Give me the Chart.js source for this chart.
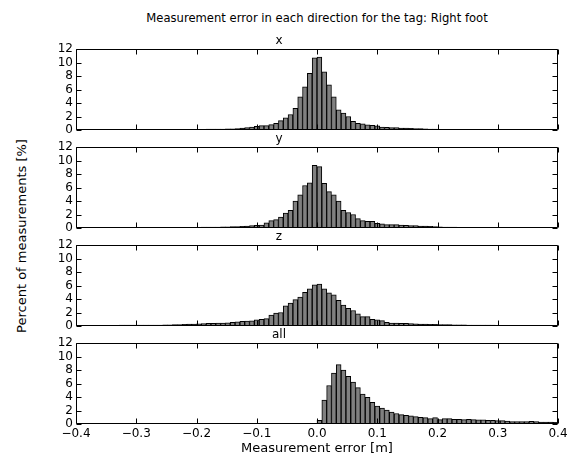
<!DOCTYPE html>
<html>
<head>
  <title>Measurement error in each direction for the tag: Right foot</title>
  <script src="https://cdn.jsdelivr.net/npm/chart.js"></script>
  <style>
    body { margin: 0; background: #fff; }
    #wrap { position: relative; width: 574px; height: 459px; font-family: "DejaVu Sans", sans-serif; color: #000; }
    #wrap canvas { position: absolute; left: 0; }
    #suptitle { position: absolute; left: 17px; width: 600px; top: 11px; text-align: center; font-size: 11.6px; }
    #ylabel { position: absolute; left: 22px; top: 236px; width: 300px; margin-left: -150px; margin-top: -8px;
              text-align: center; font-size: 13px; line-height: 16px; transform: rotate(-90deg); white-space: nowrap; }
  </style>
</head>
<body>
<div id="wrap">
  <div id="suptitle">Measurement error in each direction for the tag: Right foot</div>
  <div id="ylabel">Percent of measurements [%]</div>
  <canvas id="c0" width="574" height="115" style="top:29px"></canvas>
  <canvas id="c1" width="574" height="115" style="top:127px"></canvas>
  <canvas id="c2" width="574" height="115" style="top:225px"></canvas>
  <canvas id="c3" width="574" height="136" style="top:323px"></canvas>
</div>
<script>
// histogram bins: 100 bins of 0.008 m from -0.4 to 0.4
const binStart = -0.4;
const binWidth = 0.008;
const binCount = 100;

const xTicks = [-0.4, -0.3, -0.2, -0.1, 0.0, 0.1, 0.2, 0.3, 0.4];
const yTicks = [0, 2, 4, 6, 8, 10, 12];

const panelTitles = ['x', 'y', 'z', 'all'];

const valsX = [
  0.01, 0.01, 0.02, 0.02, 0.02, 0.02, 0.03, 0.03, 0.04, 0.05,
  0.05, 0.06, 0.06, 0.06, 0.07, 0.07, 0.07, 0.08, 0.08, 0.08,
  0.09, 0.09, 0.10, 0.10, 0.10, 0.10, 0.11, 0.12, 0.12, 0.14,
  0.15, 0.16, 0.18, 0.22, 0.28, 0.36, 0.44, 0.54, 0.64, 0.64,
  0.80, 1.00, 1.40, 1.80, 2.30, 3.20, 4.90, 6.40, 8.40, 10.7,
  10.8, 8.60, 6.70, 4.90, 3.00, 2.50, 2.00, 1.30, 1.00, 0.90,
  0.75, 0.70, 0.60, 0.45, 0.40, 0.35, 0.35, 0.30, 0.28, 0.25,
  0.22, 0.20, 0.17, 0.15, 0.12, 0.10, 0.09, 0.08, 0.07, 0.07,
  0.06, 0.05, 0.05, 0.05, 0.05, 0.05, 0.04, 0.04, 0.04, 0.04,
  0.04, 0.04, 0.04, 0.03, 0.03, 0.03, 0.03, 0.03, 0.03, 0.03
];
const valsY = [
  0.02, 0.02, 0.02, 0.03, 0.03, 0.03, 0.04, 0.04, 0.05, 0.05,
  0.05, 0.05, 0.06, 0.06, 0.06, 0.07, 0.07, 0.07, 0.08, 0.08,
  0.08, 0.09, 0.10, 0.10, 0.10, 0.11, 0.12, 0.12, 0.14, 0.15,
  0.16, 0.17, 0.20, 0.22, 0.26, 0.30, 0.35, 0.40, 0.45, 0.75,
  1.10, 1.25, 1.60, 2.20, 2.60, 4.00, 4.90, 6.30, 6.70, 9.30,
  9.10, 6.60, 5.40, 4.90, 4.00, 2.60, 2.30, 2.00, 1.40, 1.10,
  1.00, 1.00, 0.70, 0.60, 0.50, 0.50, 0.50, 0.45, 0.40, 0.35,
  0.35, 0.30, 0.28, 0.25, 0.20, 0.17, 0.15, 0.14, 0.12, 0.11,
  0.10, 0.10, 0.09, 0.08, 0.08, 0.07, 0.06, 0.06, 0.05, 0.05,
  0.05, 0.04, 0.04, 0.04, 0.04, 0.03, 0.03, 0.03, 0.03, 0.03
];
const valsZ = [
  0.08, 0.08, 0.09, 0.09, 0.10, 0.10, 0.10, 0.11, 0.11, 0.12,
  0.12, 0.12, 0.13, 0.13, 0.14, 0.14, 0.15, 0.15, 0.16, 0.18,
  0.20, 0.22, 0.25, 0.28, 0.30, 0.32, 0.35, 0.38, 0.40, 0.42,
  0.45, 0.48, 0.55, 0.60, 0.68, 0.72, 0.78, 0.90, 1.00, 1.10,
  1.60, 1.90, 2.00, 3.00, 3.40, 3.90, 4.30, 5.00, 5.50, 6.10,
  6.20, 5.50, 4.90, 4.60, 3.80, 3.10, 2.60, 2.30, 1.80, 1.40,
  1.40, 1.00, 0.90, 0.80, 0.55, 0.45, 0.45, 0.40, 0.38, 0.35,
  0.32, 0.30, 0.28, 0.26, 0.24, 0.22, 0.20, 0.20, 0.18, 0.17,
  0.16, 0.15, 0.14, 0.14, 0.13, 0.12, 0.12, 0.11, 0.11, 0.10,
  0.10, 0.10, 0.09, 0.09, 0.09, 0.08, 0.08, 0.08, 0.07, 0.07
];
const valsAll = [
  0, 0, 0, 0, 0, 0, 0, 0, 0, 0,
  0, 0, 0, 0, 0, 0, 0, 0, 0, 0,
  0, 0, 0, 0, 0, 0, 0, 0, 0, 0,
  0, 0, 0, 0, 0, 0, 0, 0, 0, 0,
  0, 0, 0, 0, 0, 0, 0, 0, 0, 0,
  0.55, 3.55, 5.70, 7.55, 8.80, 8.00, 7.05, 6.20, 5.40, 4.45,
  3.95, 3.20, 2.65, 2.35, 2.05, 1.75, 1.55, 1.40, 1.30, 1.20,
  1.10, 1.00, 0.95, 0.80, 0.95, 0.65, 0.80, 0.80, 0.70, 0.70,
  0.65, 0.70, 0.65, 0.60, 0.60, 0.55, 0.55, 0.50, 0.50, 0.45,
  0.35, 0.35, 0.35, 0.35, 0.40, 0.35, 0.30, 0.30, 0.30, 0.25
];

const binCenters = [];
for (let i = 0; i < binCount; i++) binCenters.push(binStart + (i + 0.5) * binWidth);

const FONT = 'DejaVu Sans';

function fmtTick(v) {
  return v.toFixed(1).replace('-', '\u2212');
}

// box around the plot and inward ticks on all four sides
const framePlugin = {
  id: 'frame',
  afterDraw(chart) {
    const { ctx, chartArea: a, scales } = chart;
    const L = Math.round(a.left) + 0.5, R = Math.round(a.right) - 0.5;
    const T = Math.round(a.top) + 0.5, B = Math.round(a.bottom) - 0.5;
    ctx.save();
    ctx.strokeStyle = '#000';
    ctx.lineWidth = 1;
    ctx.beginPath();
    ctx.rect(L, T, R - L, B - T);
    yTicks.forEach(v => {
      const y = Math.round(scales.y.getPixelForValue(v)) + 0.5;
      ctx.moveTo(L, y); ctx.lineTo(L + 5, y);
      ctx.moveTo(R, y); ctx.lineTo(R - 5, y);
    });
    xTicks.forEach(v => {
      const x = Math.round(scales.x.getPixelForValue(v)) + 0.5;
      ctx.moveTo(x, B); ctx.lineTo(x, B - 5);
      ctx.moveTo(x, T); ctx.lineTo(x, T + 5);
    });
    ctx.stroke();
    ctx.restore();
  }
};

function makePanel(canvasId, title, values, isBottom) {
  new Chart(document.getElementById(canvasId), {
    type: 'bar',
    data: {
      datasets: [{
        data: binCenters.map((x, i) => ({ x: x, y: values[i] })),
        backgroundColor: '#808080',
        borderColor: '#000000',
        borderWidth: 1,
        barPercentage: 1,
        categoryPercentage: 1
      }]
    },
    options: {
      responsive: false,
      animation: false,
      layout: { padding: { left: 0, right: 16, top: 0, bottom: isBottom ? 0 : 14 } },
      plugins: {
        legend: { display: false },
        tooltip: { enabled: false },
        title: {
          display: true, text: title, color: '#000',
          font: { family: FONT, size: 12, weight: 'normal' },
          padding: { top: 4.6, bottom: 1 }
        }
      },
      scales: {
        x: {
          type: 'linear', min: -0.4, max: 0.4, offset: false,
          grid: { display: false, drawTicks: false, offset: false },
          border: { display: false },
          ticks: {
            display: isBottom, stepSize: 0.1, maxRotation: 0, padding: 3, autoSkip: false,
            color: '#000', font: { family: FONT, size: 12 },
            callback: v => fmtTick(v)
          },
          title: {
            display: isBottom, text: 'Measurement error [m]', color: '#000',
            font: { family: FONT, size: 13 }, padding: { top: 0, bottom: 3 }
          },
          afterFit: s => { s.height = isBottom ? 35 : 0; }
        },
        y: {
          min: 0, max: 12,
          grid: { display: false, drawTicks: false },
          border: { display: false },
          ticks: { stepSize: 2, padding: 3, autoSkip: false, color: '#000', font: { family: FONT, size: 12 } },
          afterFit: s => { s.width = 76; }
        }
      }
    },
    plugins: [framePlugin]
  });
}

makePanel('c0', panelTitles[0], valsX, false);
makePanel('c1', panelTitles[1], valsY, false);
makePanel('c2', panelTitles[2], valsZ, false);
makePanel('c3', panelTitles[3], valsAll, true);
</script>
</body>
</html>
